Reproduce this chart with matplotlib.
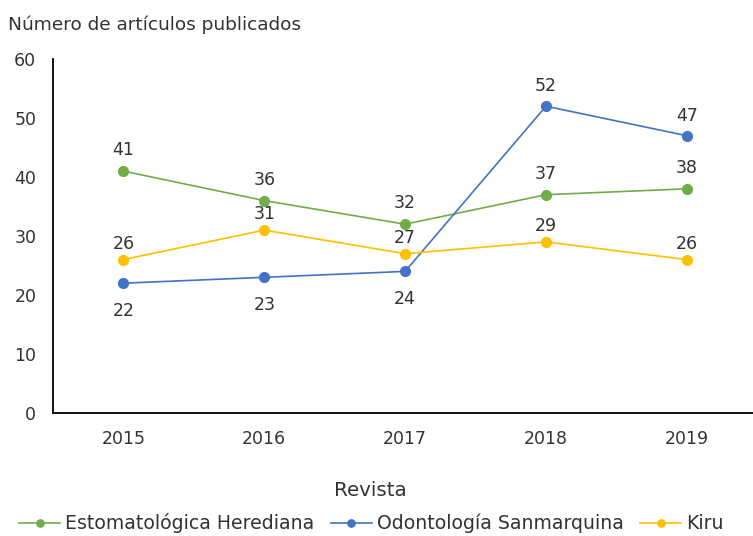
import matplotlib.pyplot as plt

# Datos
anios = ['2015', '2016', '2017', '2018', '2019']
herediana = [41, 36, 32, 37, 38]
sanmarquina = [22, 23, 24, 52, 47]
kiru = [26, 31, 27, 29, 26]

series = [
    ('Estomatológica Herediana', herediana, '#70AD47'),
    ('Odontología Sanmarquina', sanmarquina, '#4472C4'),
    ('Kiru', kiru, '#FFC000'),
]

plt.rcParams['font.family'] = 'DejaVu Sans'
texto = '#333333'

fig = plt.figure(figsize=(7.53, 5.36), dpi=100)
ax = fig.add_axes([0.0704, 0.2295, 0.9296, 0.6604])

x = list(range(len(anios)))
for nombre, valores, color in series:
    ax.plot(x, valores, color=color, linewidth=1.2, marker='o',
            markersize=7, label=nombre)

# Etiquetas de datos
for i, v in enumerate(herediana):
    ax.annotate(str(v), (i, v), xytext=(0, 21), textcoords='offset pixels',
                ha='center', va='center', fontsize=12.5, color=texto)
for i, v in enumerate(sanmarquina):
    dy = -28 if i < 3 else 20
    ax.annotate(str(v), (i, v), xytext=(0, dy), textcoords='offset pixels',
                ha='center', va='center', fontsize=12.5, color=texto)
for i, v in enumerate(kiru):
    ax.annotate(str(v), (i, v), xytext=(0, 16), textcoords='offset pixels',
                ha='center', va='center', fontsize=12.5, color=texto)

ax.set_xlim(-0.5, 4.47)
ax.set_ylim(0, 60)
ax.set_yticks(range(0, 61, 10))
ax.set_xticks(x)
ax.set_xticklabels(anios)
ax.tick_params(length=0, labelsize=12.5, labelcolor=texto, pad=12)
ax.tick_params(axis='y', pad=12)

ax.spines['top'].set_visible(False)
ax.spines['right'].set_visible(False)
ax.spines['left'].set_linewidth(1.3)
ax.spines['bottom'].set_linewidth(1.3)

fig.text(0.011, 0.953, 'Número de artículos publicados', fontsize=13.3,
         color=texto, ha='left', va='center')
fig.text(0.492, 0.084, 'Revista', fontsize=14.3, color=texto,
         ha='center', va='center')

fig.legend(loc='center', bbox_to_anchor=(0.493, 0.024), ncol=3, frameon=False,
           fontsize=13.6, handlelength=2.2, handletextpad=0.25, columnspacing=0.85,
           labelcolor=texto, markerscale=0.75, borderpad=0.1)

fig.savefig('out.png', dpi=100)
